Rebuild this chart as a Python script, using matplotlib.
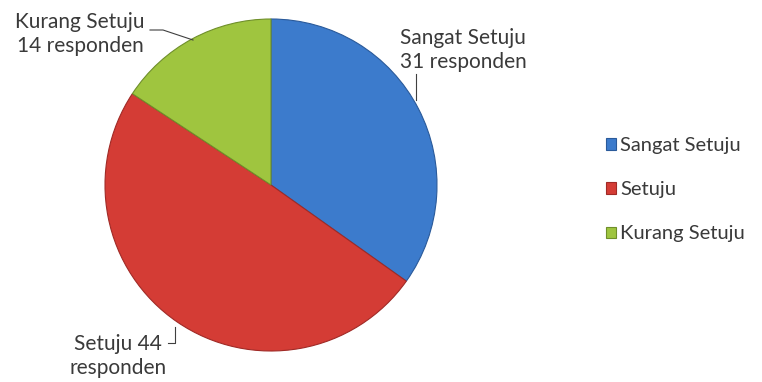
import matplotlib.pyplot as plt

# data
labels = ['Sangat Setuju', 'Setuju', 'Kurang Setuju']
values = [31, 44, 14]
colors = ['#3c7bcc', '#d43c35', '#9fc53f']
edge_colors = ['#2a5a9a', '#a02a26', '#6f8f2a']

plt.rcParams['font.family'] = ['Lato', 'DejaVu Sans']

fig = plt.figure(figsize=(7.62, 3.82), dpi=100)
ax = fig.add_axes([0, 0, 1, 1])

wedges, _ = ax.pie(values, colors=colors, startangle=90, counterclock=False,
                   center=(271, 197), radius=166, frame=True,
                   wedgeprops=dict(linewidth=0.8))
ax.set_xlim(0, 762)
ax.set_ylim(0, 382)
ax.set_aspect('equal')
ax.axis('off')
for w, ec in zip(wedges, edge_colors):
    w.set_edgecolor(ec)

txt = dict(fontsize=15, color='#3a3a3a', linespacing=1.25,
           ha='center', va='center', multialignment='center')
ax.text(463, 332, 'Sangat Setuju\n31 responden', **txt)
ax.text(80, 348, 'Kurang Setuju\n14 responden', **txt)
ax.text(118, 26, 'Setuju 44\nresponden', **txt)

# leader lines
ln = dict(color='#404040', linewidth=0.8)
ax.plot([416, 416], [308, 282], **ln)
ax.plot([150, 163, 193], [352, 352, 342], **ln)
ax.plot([168, 175, 175], [39, 39, 55], **ln)

leg = ax.legend(wedges, labels, loc='upper left', bbox_to_anchor=(596 / 762, 1 - 127 / 382),
                frameon=False, fontsize=14.5, handlelength=0.5, handleheight=0.5,
                handletextpad=0.2, labelspacing=1.35, borderpad=0)
for t in leg.get_texts():
    t.set_color('#3a3a3a')

fig.savefig('out.png', dpi=100)
